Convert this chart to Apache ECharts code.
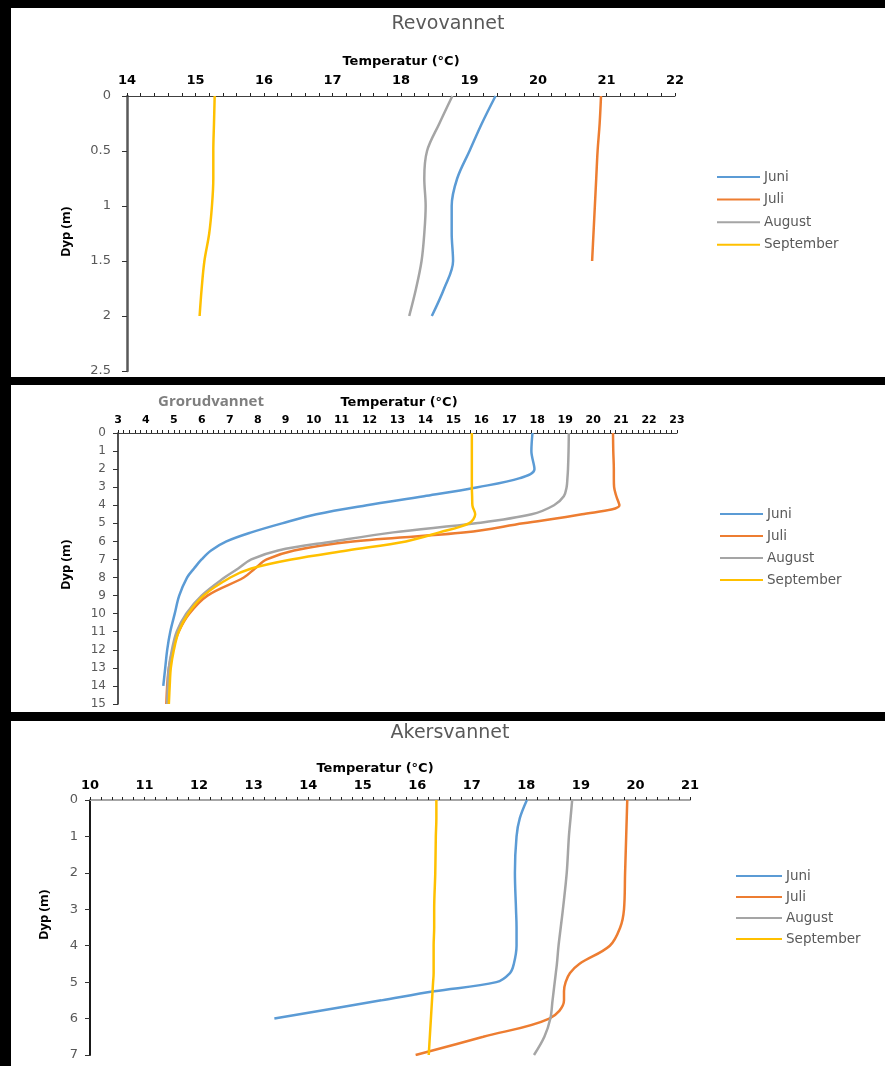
<!DOCTYPE html>
<html>
<head>
<meta charset="utf-8">
<script src="https://cdn.jsdelivr.net/npm/echarts@6/dist/echarts.min.js"></script>
<style>
html,body{margin:0;padding:0;background:#fff;}
#c{width:885px;height:1066px;}
</style>
</head>
<body>
<div id="c"></div>
<script>
// ---------- DATA ----------
const months = ['Juni', 'Juli', 'August', 'September'];
const lakeTitles = ['Revovannet', 'Grorudvannet', 'Akersvannet'];
const xAxisTitle = 'Temperatur (°C)';
const yAxisTitle = 'Dyp (m)';

// Revovannet
const revoDepth = [0, 0.25, 0.5, 0.75, 1, 1.25, 1.5, 1.75, 2];
const revoJuni = [19.38, 19.18, 19.0, 18.82, 18.74, 18.74, 18.76, 18.63, 18.45];
const revoJuli = [20.92, 20.9, 20.87, 20.85, 20.83, 20.81, 20.79, null, null];
const revoAugust = [18.75, 18.56, 18.38, 18.34, 18.36, 18.34, 18.3, 18.22, 18.12];
const revoSeptember = [15.28, 15.27, 15.26, 15.26, 15.24, 15.2, 15.13, 15.09, 15.06];

// Grorudvannet
const grorDepth = [0, 1, 2, 2.5, 3, 3.5, 4, 4.5, 5, 5.5, 6, 6.5, 7, 7.5, 8, 9, 10, 11, 12, 13, 14, 15];
const grorJuni = [17.83, 17.79, 17.9, 17.38, 15.87, 13.95, 11.9, 10.1, 8.87, 7.77, 6.88, 6.33, 5.99, 5.72, 5.47, 5.19, 5.03, 4.87, 4.76, 4.69, 4.62, null];
const grorJuli = [20.71, 20.72, 20.74, 20.74, 20.75, 20.83, 20.94, 19.6, 17.5, 15.45, 11.4, 9.3, 8.32, 7.9, 7.5, 6.2, 5.55, 5.17, 4.96, 4.82, 4.76, 4.73];
const grorAugust = [19.13, 19.12, 19.1, 19.08, 19.05, 18.95, 18.6, 17.8, 15.8, 12.85, 10.7, 8.73, 7.77, 7.3, 6.81, 5.99, 5.44, 5.1, 4.93, 4.82, 4.78, 4.76];
const grorSeptember = [15.66, 15.66, 15.66, 15.66, 15.66, 15.67, 15.68, 15.78, 15.55, 14.5, 13.3, 11.2, 9.2, 7.77, 7.02, 6.06, 5.51, 5.17, 5.0, 4.89, 4.85, 4.82];

// Akersvannet
const akerDepth = [0, 0.5, 1, 2, 3, 3.5, 4, 4.5, 4.75, 5, 5.25, 5.5, 6, 6.5, 7];
const akerJuni = [18.01, 17.88, 17.82, 17.79, 17.81, 17.82, 17.82, 17.77, 17.7, 17.45, 16.31, 15.34, 13.38, null, null];
const akerJuli = [19.85, 19.84, 19.83, 19.81, 19.79, 19.72, 19.53, 18.97, 18.8, 18.72, 18.69, 18.69, 18.42, 17.21, 15.97];
const akerAugust = [18.84, 18.81, 18.78, 18.74, 18.67, 18.63, 18.59, 18.56, 18.54, 18.52, 18.5, 18.48, 18.44, 18.33, 18.14];
const akerSeptember = [16.35, 16.35, 16.34, 16.33, 16.31, 16.31, 16.3, 16.3, 16.3, 16.29, 16.28, 16.27, 16.25, 16.23, 16.21];

// Axis ranges
const xRanges = [[14, 22], [3, 23], [10, 21]];
const yRanges = [[0, 2.5, 0.5], [0, 15, 1], [0, 7, 1]];

// ---------- BUILD ----------
const lakes = [
  { depth: revoDepth, vals: [revoJuni, revoJuli, revoAugust, revoSeptember] },
  { depth: grorDepth, vals: [grorJuni, grorJuli, grorAugust, grorSeptember] },
  { depth: akerDepth, vals: [akerJuni, akerJuli, akerAugust, akerSeptember] }
];
const colors = ['#5B9BD5', '#ED7D31', '#A5A5A5', '#FFC000'];

function pairs(temps, depth) {
  const out = [];
  temps.forEach((t, i) => { if (t != null) out.push([t, depth[i]]); });
  return out;
}

const grids = [
  { left: 127, right: 210, top: 96, bottom: 1066 - 371 },
  { left: 118, right: 208, top: 433, bottom: 1066 - 704 },
  { left: 90, right: 195, top: 800, bottom: 1066 - 1055 }
];

const xAxisStyles = [
  { labelSize: 13, margin: 9, lineColor: '#404040', lineWidth: 1 },
  { labelSize: 11, margin: 7, lineColor: '#404040', lineWidth: 1 },
  { labelSize: 13, margin: 8, lineColor: '#A6A6A6', lineWidth: 2 }
];
const yAxisStyles = [
  { lineColor: '#595959', lineWidth: 2.5, margin: 16, size: 13 },
  { lineColor: '#1a1a1a', lineWidth: 1.5, margin: 12, size: 12 },
  { lineColor: '#1a1a1a', lineWidth: 2, margin: 12, size: 13 }
];

const xAxes = xRanges.map((r, i) => ({
  type: 'value', gridIndex: i, position: 'top', min: r[0], max: r[1], interval: 1,
  axisLine: { show: true, onZero: false, lineStyle: { color: xAxisStyles[i].lineColor, width: xAxisStyles[i].lineWidth } },
  axisTick: { show: true, length: 3, lineStyle: { color: '#222' } },
  minorTick: { show: true, splitNumber: 5, length: 3, lineStyle: { color: '#222' } },
  splitLine: { show: false },
  axisLabel: { margin: xAxisStyles[i].margin, color: '#000', fontWeight: 'bold', fontSize: xAxisStyles[i].labelSize, fontFamily: 'DejaVu Sans' }
}));

const yAxes = yRanges.map((r, i) => ({
  type: 'value', gridIndex: i, inverse: true, min: r[0], max: r[1], interval: r[2],
  axisLine: { show: true, onZero: false, lineStyle: { color: yAxisStyles[i].lineColor, width: yAxisStyles[i].lineWidth } },
  axisTick: { show: true, length: 5, lineStyle: { color: '#333' } },
  splitLine: { show: false },
  axisLabel: { margin: yAxisStyles[i].margin, color: '#595959', fontSize: yAxisStyles[i].size, fontFamily: 'DejaVu Sans' }
}));

const series = [];
lakes.forEach((lake, li) => {
  lake.vals.forEach((vals, mi) => {
    series.push({
      name: months[mi], type: 'line', xAxisIndex: li, yAxisIndex: li,
      data: pairs(vals, lake.depth), showSymbol: false, smooth: 0.35,
      lineStyle: { color: colors[mi], width: 2.5 }, itemStyle: { color: colors[mi] },
      z: 3
    });
  });
});

const legendPos = [
  { left: 717, top: 170, itemWidth: 43, gap: 8.6 },
  { left: 720, top: 507, itemWidth: 43, gap: 8 },
  { left: 736, top: 869, itemWidth: 46, gap: 7 }
];
const legends = legendPos.map(p => ({
  orient: 'vertical', left: p.left, top: p.top, itemWidth: p.itemWidth, itemHeight: 2,
  itemGap: p.gap, icon: 'rect', data: months, selectedMode: false, padding: 0,
  textStyle: { color: '#595959', fontSize: 13.5, fontFamily: 'DejaVu Sans', padding: [0, 0, 0, -1] }
}));

const txt = (text, x, y, font, color, rot) => ({
  type: 'text', x: x, y: y, rotation: rot || 0,
  style: { text: text, font: font, fill: color, textAlign: 'center', textVerticalAlign: 'middle' }, z: 10
});

const graphics = [
  { type: 'rect', shape: { x: 0, y: 0, width: 885, height: 8 }, style: { fill: '#000' }, z: 20 },
  { type: 'rect', shape: { x: 0, y: 0, width: 11, height: 1066 }, style: { fill: '#000' }, z: 20 },
  { type: 'rect', shape: { x: 0, y: 377, width: 885, height: 8 }, style: { fill: '#000' }, z: 20 },
  { type: 'rect', shape: { x: 0, y: 712, width: 885, height: 9 }, style: { fill: '#000' }, z: 20 },
  txt(lakeTitles[0], 448, 24, '19px "DejaVu Sans"', '#595959'),
  txt(xAxisTitle, 401, 62, 'bold 13px "DejaVu Sans"', '#000'),
  txt(yAxisTitle, 66, 232, 'bold 13px "Open Sans"', '#000', Math.PI / 2),
  txt(lakeTitles[1], 211, 402, 'bold 15px "Open Sans"', '#7F7F7F'),
  txt(xAxisTitle, 399, 403, 'bold 13px "DejaVu Sans"', '#000'),
  txt(yAxisTitle, 66, 565, 'bold 13px "Open Sans"', '#000', Math.PI / 2),
  txt(lakeTitles[2], 450, 733, '19px "DejaVu Sans"', '#595959'),
  txt(xAxisTitle, 375, 769, 'bold 13px "DejaVu Sans"', '#000'),
  txt(yAxisTitle, 44, 915, 'bold 13px "Open Sans"', '#000', Math.PI / 2)
];

const chart = echarts.init(document.getElementById('c'), null, { renderer: 'canvas' });
chart.setOption({
  backgroundColor: '#fff',
  animation: false,
  grid: grids,
  xAxis: xAxes,
  yAxis: yAxes,
  legend: legends,
  series: series,
  graphic: graphics
});
</script>
</body>
</html>
